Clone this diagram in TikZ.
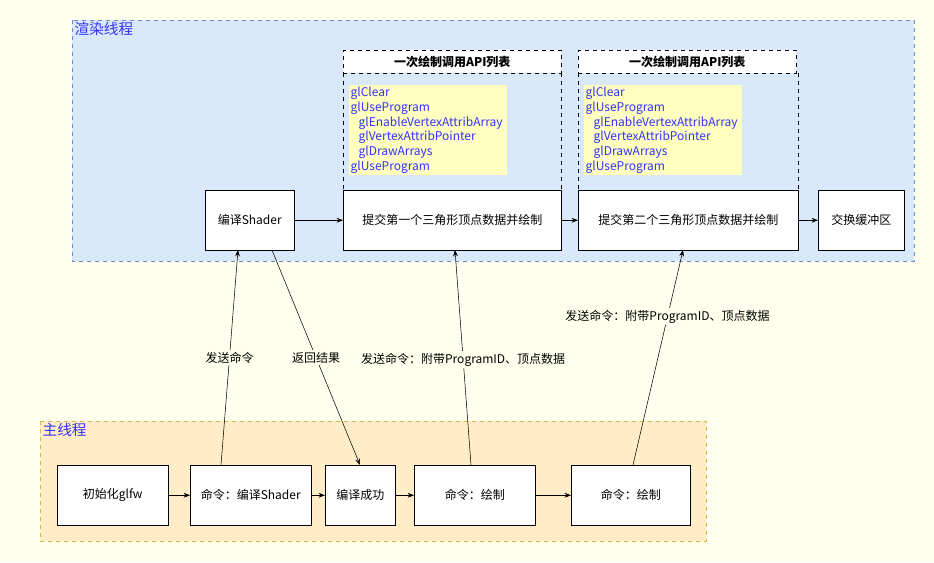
\documentclass[tikz,border=0pt]{standalone}
\usepackage{fontspec}
\setmainfont{Noto Sans CJK SC}
\usetikzlibrary{arrows.meta, positioning, patterns, backgrounds}
\definecolor{pagebg}{HTML}{FFFFEE}
\definecolor{renderbg}{HTML}{DAE8FC}
\definecolor{renderline}{HTML}{6C8EBF}
\definecolor{mainbg}{HTML}{FFF2CC}
\definecolor{mainline}{HTML}{D6B656}
\definecolor{titleblue}{HTML}{3333FF}
\definecolor{listbg}{HTML}{FFFFC0}
\begin{document}
\begin{tikzpicture}[
    x=0.75pt, y=-0.75pt,
    >=Stealth,
    font=\fontsize{9}{11}\selectfont,
    box/.style={draw, fill=white, minimum height=45pt, inner sep=2pt},
    thread/.style={dashed, thin},
    title/.style={anchor=north west, text=titleblue, font=\fontsize{11}{13}\selectfont, inner sep=1pt},
    header/.style={draw, dashed, fill=white, minimum width=163.5pt, minimum height=17pt, font=\fontsize{9}{11}\selectfont\bfseries},
    apilist/.style={fill=listbg, text=titleblue, align=left, anchor=north west, inner sep=1pt, text width=116pt, font=\fontsize{9}{11.2}\selectfont},
    msg/.style={fill=pagebg, inner sep=1.5pt},
    link/.style={->, thin}
]
\fill[pagebg] (0,0) rectangle (934,562);

% Thread areas
\draw[thread, draw=renderline, fill=renderbg] (72,20) rectangle (914,261);
\node[title] (render) at (73,21) {渲染线程};
\fill[mainbg] (40,421) rectangle (706,541);
\fill[pattern=north east lines, pattern color=orange!25] (40,421) rectangle (706,541);
\draw[thread, draw=mainline] (40,421) rectangle (706,541);
\node[title] (mainthread) at (41,422) {主线程};

% API lists
\node[header, anchor=north west] (headA) at (343,50) {一次绘制调用API列表};
\node[header, anchor=north west] (headB) at (578,50) {一次绘制调用API列表};
\draw[dashed] (343,73) -- (343,190) (561,73) -- (561,190);
\draw[dashed] (578,73) -- (578,190) (798,73) -- (798,190);
\foreach \x/\n in {349/A, 584/B}
    \node[apilist] (list\n) at (\x,85) {glClear\\glUseProgram\\\hspace*{6pt}glEnableVertexAttribArray\\\hspace*{6pt}glVertexAttribPointer\\\hspace*{6pt}glDrawArrays\\glUseProgram};

% Render thread steps
\node[box, minimum width=66.75pt, anchor=north west] (compile) at (205,190) {编译Shader};
\node[box, minimum width=163.5pt, anchor=north west] (drawA) at (343,190) {提交第一个三角形顶点数据并绘制};
\node[box, minimum width=165pt, anchor=north west] (drawB) at (578,190) {提交第二个三角形顶点数据并绘制};
\node[box, minimum width=64.5pt, anchor=north west] (swap) at (818,190) {交换缓冲区};
\draw[link] (compile) -- (drawA);
\draw[link] (drawA) -- (drawB);
\draw[link] (drawB) -- (swap);

% Main thread steps
\node[box, minimum width=83.25pt, anchor=north west] (init) at (57,465) {初始化glfw};
\node[box, minimum width=90.75pt, anchor=north west] (cmdCompile) at (190,465) {命令：编译Shader};
\node[box, minimum width=52.5pt, anchor=north west] (done) at (325,465) {编译成功};
\node[box, minimum width=90.75pt, anchor=north west] (cmdDrawA) at (414,465) {命令：绘制};
\node[box, minimum width=89.25pt, anchor=north west] (cmdDrawB) at (571,465) {命令：绘制};
\draw[link] (init) -- (cmdCompile);
\draw[link] (cmdCompile) -- (done);
\draw[link] (done) -- (cmdDrawA);
\draw[link] (cmdDrawA) -- (cmdDrawB);

% Messages between threads
\coordinate (c1) at (221,465); \coordinate (c2) at (238,250);
\coordinate (c3) at (272,250); \coordinate (c4) at (360,465);
\coordinate (c5) at (471,465); \coordinate (c6) at (455,250);
\coordinate (c7) at (633,465); \coordinate (c8) at (683,250);
\draw[link] (c1) -- node[msg, pos=0.5] {发送命令} (c2);
\draw[link] (c3) -- node[msg, pos=0.5] {返回结果} (c4);
\draw[link] (c5) -- node[msg, pos=0.49] {发送命令：附带ProgramID、顶点数据} (c6);
\draw[link] (c7) -- node[msg, pos=0.69] {发送命令：附带ProgramID、顶点数据} (c8);
\end{tikzpicture}
\end{document}
